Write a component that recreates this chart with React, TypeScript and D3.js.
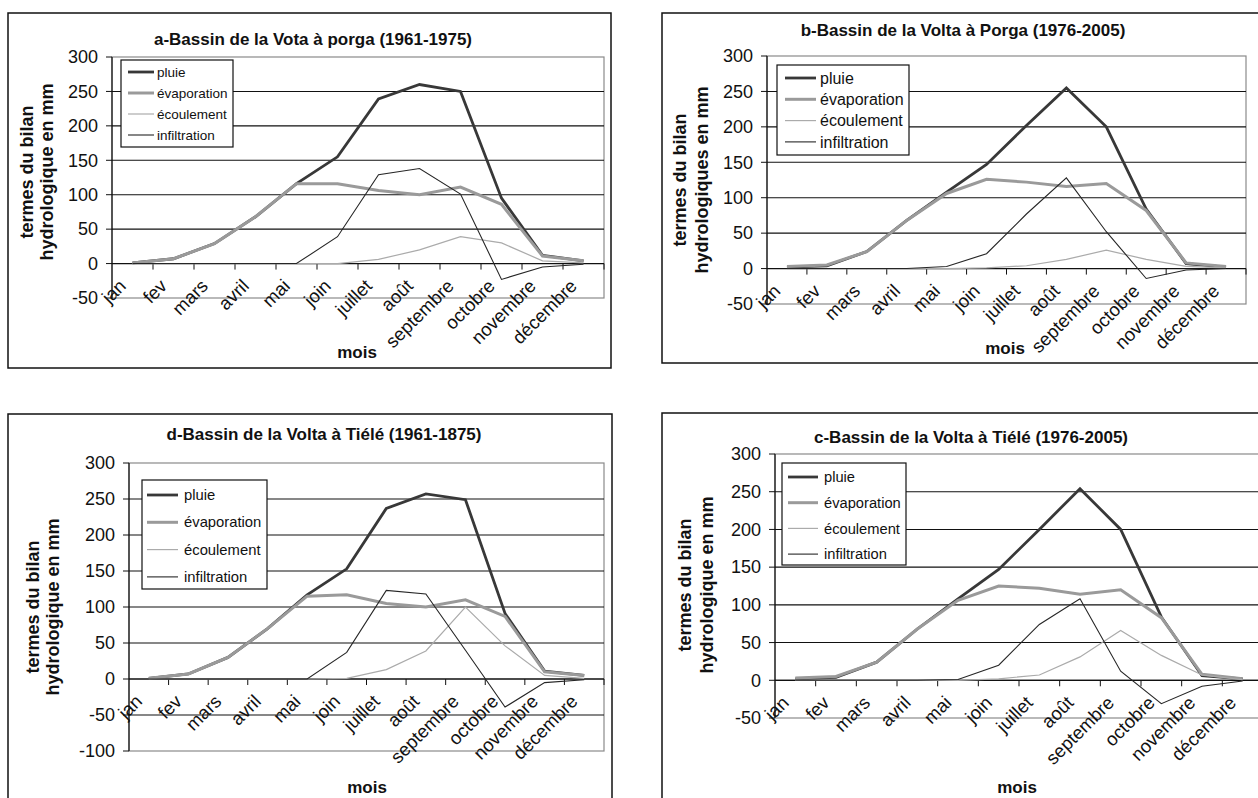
import * as d3 from 'd3'

// months on the category axis
const months = ['jan', 'fev', 'mars', 'avril', 'mai', 'join', 'juillet', 'août', 'septembre', 'octobre', 'novembre', 'décembre']
const seriesNames = ['pluie', 'évaporation', 'écoulement', 'infiltration']

// a - Porga 1961-1975
const pluieA = [1, 7, 29, 68, 116, 155, 239, 260, 250, 95, 12, 4]
const evapA = [1, 7, 29, 68, 116, 116, 106, 100, 111, 86, 11, 4]
const ecoulA = [0, 0, 0, 0, 0, 0, 6, 20, 39, 30, 4, 1]
const infilA = [0, 0, 0, 0, 0, 39, 129, 138, 101, -23, -5, -1]

// b - Porga 1976-2005
const pluieB = [2, 4, 24, 68, 108, 147, 202, 255, 200, 84, 7, 2]
const evapB = [3, 5, 24, 68, 106, 126, 122, 116, 120, 82, 8, 3]
const ecoulB = [0, 0, 0, 0, 0, 1, 4, 13, 26, 13, 3, 1]
const infilB = [0, 0, 0, 0, 3, 21, 77, 128, 52, -14, -2, 0]

// d - Tiélé 1961-1875
const pluieD = [1, 7, 30, 70, 117, 153, 237, 257, 249, 91, 11, 5]
const evapD = [1, 7, 30, 70, 115, 117, 105, 100, 110, 87, 10, 5]
const ecoulD = [0, 0, 0, 0, 0, 1, 13, 39, 100, 46, 5, 1]
const infilD = [0, 0, 0, 0, 0, 37, 123, 118, 40, -39, -5, -1]

// c - Tiélé 1976-2005
const pluieC = [2, 4, 24, 68, 108, 147, 200, 254, 200, 84, 6, 2]
const evapC = [3, 5, 24, 68, 106, 125, 122, 114, 120, 83, 8, 2]
const ecoulC = [0, 0, 0, 0, 0, 2, 7, 31, 66, 33, 7, 1]
const infilC = [0, 0, 0, 0, 1, 20, 74, 108, 12, -31, -8, -1]

const yTicks3 = [-50, 0, 50, 100, 150, 200, 250, 300]
const yTicks4 = [-100, -50, 0, 50, 100, 150, 200, 250, 300]

const FONT = '"Liberation Sans", Arial, sans-serif'

const styles = [
  { stroke: '#383838', width: 2.8 },
  { stroke: '#9a9a9a', width: 3 },
  { stroke: '#ababab', width: 1.2 },
  { stroke: '#262626', width: 1.1 },
]

const panels = [
  {
    key: 'a', title: 'a-Bassin de la Vota à porga (1961-1975)',
    data: [pluieA, evapA, ecoulA, infilA], ticks: yTicks3,
    box: { x: 8, y: 13, w: 603, h: 355 },
    plot: { l: 112, r: 604, t: 57, b: 298 },
    titlePos: [313, 39],
    legend: { x: 121, y: 60, w: 112, h: 87, y0: 72, step: 21, l1: 128, l2: 154, tx: 157, fs: 13.5 },
    ylab: ['termes du bilan', 'hydrologique en mm'], ylx: [27, 47], yly: 172,
    mois: [357, 352],
  },
  {
    key: 'b', title: 'b-Bassin de la Volta à Porga (1976-2005)',
    data: [pluieB, evapB, ecoulB, infilB], ticks: yTicks3,
    box: { x: 662, y: 13, w: 640, h: 350 },
    plot: { l: 767, r: 1246, t: 56, b: 304 },
    titlePos: [963, 30],
    legend: { x: 777, y: 65, w: 132, h: 90, y0: 78, step: 21.3, l1: 785, l2: 816, tx: 820, fs: 16 },
    ylab: ['termes du bilan', 'hydrologiques en mm'], ylx: [680, 702], yly: 180,
    mois: [1005, 348],
  },
  {
    key: 'd', title: 'd-Bassin de la Volta à Tiélé (1961-1875)',
    data: [pluieD, evapD, ecoulD, infilD], ticks: yTicks4,
    box: { x: 8, y: 414, w: 604, h: 420 },
    plot: { l: 129, r: 604, t: 463, b: 751 },
    titlePos: [324, 434],
    legend: { x: 142, y: 480, w: 125, h: 109, y0: 495, step: 27.3, l1: 147, l2: 178, tx: 184, fs: 14.8 },
    ylab: ['termes du bilan', 'hydrologique en mm'], ylx: [33, 53], yly: 607,
    mois: [367, 787],
  },
  {
    key: 'c', title: 'c-Bassin de la Volta à Tiélé (1976-2005)',
    data: [pluieC, evapC, ecoulC, infilC], ticks: yTicks3,
    box: { x: 662, y: 413, w: 640, h: 420 },
    plot: { l: 775, r: 1263, t: 454, b: 718 },
    titlePos: [971, 437],
    legend: { x: 782, y: 463, w: 124, h: 102, y0: 477, step: 25.7, l1: 788, l2: 818, tx: 824, fs: 14.7 },
    ylab: ['termes du bilan', 'hydrologique en mm'], ylx: [685, 707], yly: 585,
    mois: [1017, 787],
  },
]

function Panel({ p }: { p: any }) {
  const { plot, box, legend } = p
  const x = d3.scaleBand<string>().domain(months).range([plot.l, plot.r]).padding(0)
  const y = d3.scaleLinear().domain([p.ticks[0], p.ticks[p.ticks.length - 1]]).range([plot.b, plot.t])
  const cx = (m: string) => (x(m) || 0) + x.bandwidth() / 2
  const y0 = y(0)
  const line = d3.line<number>().x((_, i) => cx(months[i])).y(d => y(d))
  const inner = p.ticks.slice(1, -1)

  return (
    <g>
      <rect x={box.x} y={box.y} width={box.w} height={box.h} fill="#fff" stroke="#111" strokeWidth={1.5} />
      <text x={p.titlePos[0]} y={p.titlePos[1]} dy="0.35em" textAnchor="middle" fontSize={17} fontWeight="bold" fill="#111">{p.title}</text>

      <rect x={plot.l} y={plot.t} width={plot.r - plot.l} height={plot.b - plot.t} fill="#fff" stroke="#8a8a8a" strokeWidth={1.2} />
      {inner.map((t: number) => (
        <line key={t} x1={plot.l} x2={plot.r} y1={y(t)} y2={y(t)} stroke="#111" strokeWidth={1.1} />
      ))}

      {/* y axis */}
      <line x1={plot.l} x2={plot.l} y1={plot.t} y2={plot.b} stroke="#111" strokeWidth={1.2} />
      {p.ticks.map((t: number) => (
        <g key={t}>
          <line x1={plot.l - 6} x2={plot.l} y1={y(t)} y2={y(t)} stroke="#111" />
          <text x={plot.l - 14} y={y(t)} dy="0.35em" textAnchor="end" fontSize={18} fill="#111">{t}</text>
        </g>
      ))}

      {/* category axis at 0 */}
      <line x1={plot.l} x2={plot.r} y1={y0} y2={y0} stroke="#111" strokeWidth={1.2} />
      {months.map(m => (
        <line key={m} x1={(x(m) || 0) + x.bandwidth()} x2={(x(m) || 0) + x.bandwidth()} y1={y0} y2={y0 + 6} stroke="#111" />
      ))}
      {months.map(m => (
        <text key={m} transform={`translate(${cx(m) - 10},${y0 + 19}) rotate(-45)`} dy="0.35em" textAnchor="end" fontSize={18.5} fill="#111">{m}</text>
      ))}

      {/* series */}
      {p.data.map((vals: number[], i: number) => (
        <path key={i} d={line(vals) || ''} fill="none" stroke={styles[i].stroke} strokeWidth={styles[i].width} strokeLinejoin="miter" />
      ))}

      {/* legend */}
      <rect x={legend.x} y={legend.y} width={legend.w} height={legend.h} fill="#fff" stroke="#111" strokeWidth={1.2} />
      {seriesNames.map((s, i) => (
        <g key={s}>
          <line x1={legend.l1} x2={legend.l2} y1={legend.y0 + i * legend.step} y2={legend.y0 + i * legend.step} stroke={styles[i].stroke} strokeWidth={styles[i].width} />
          <text x={legend.tx} y={legend.y0 + i * legend.step} dy="0.35em" fontSize={legend.fs} fill="#111">{s}</text>
        </g>
      ))}

      {/* axis titles */}
      {p.ylab.map((t: string, i: number) => (
        <text key={t} transform={`translate(${p.ylx[i]},${p.yly}) rotate(-90)`} dy="0.35em" textAnchor="middle" fontSize={18} fontWeight="bold" fill="#111">{t}</text>
      ))}
      <text x={p.mois[0]} y={p.mois[1]} dy="0.35em" textAnchor="middle" fontSize={17} fontWeight="bold" fill="#111">mois</text>
    </g>
  )
}

export default function App() {
  return (
    <div style={{ position: 'absolute', left: 0, top: 0, width: 1258, height: 798, background: '#fff' }}>
      <svg width={1258} height={798} style={{ display: 'block', fontFamily: FONT }}>
        <rect width={1258} height={798} fill="#fff" />
        {panels.map(p => <Panel key={p.key} p={p} />)}
      </svg>
    </div>
  )
}
